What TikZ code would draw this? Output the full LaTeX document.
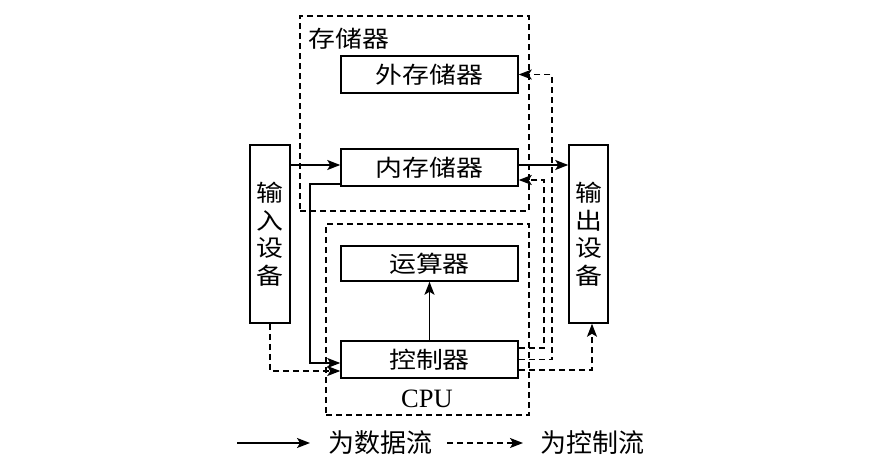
\documentclass[tikz,border=0pt]{standalone}
\usepackage{fontspec}
\setmainfont{Liberation Serif}
\newfontfamily\cjk{Noto Sans CJK SC}
\newfontfamily\cjkw[FakeStretch=1.17]{Noto Sans CJK SC}
\usetikzlibrary{arrows.meta,calc}
\begin{document}
\begin{tikzpicture}[x=1pt,y=-1pt,
  box/.style={draw,line width=1.5pt,inner sep=0pt,font=\cjkw\fontsize{23}{27.5}\selectfont},
  group/.style={draw,dash pattern=on 6pt off 4pt,line width=1.4pt,inner sep=0pt},
  data/.style={line width=1.5pt,-{Stealth[length=13pt,width=10pt,inset=3pt]}},
  ctrl/.style={line width=1.4pt,dash pattern=on 6pt off 4pt,-{Stealth[length=13pt,width=10pt,inset=3pt]}},
  lbl/.style={inner sep=0pt,font=\cjkw\fontsize{23}{27.5}\selectfont},
  leg/.style={inner sep=0pt,font=\cjk\fontsize{26}{30}\selectfont}]
\useasboundingbox (0,0) rectangle (889,469);
% groups
\node[group,minimum width=229pt,minimum height=195pt] (mem) at (414.5,113.5) {};
\node[lbl] (memlbl) at (349,39) {存储器};
\node[group,minimum width=203pt,minimum height=191pt] (cpu) at (427.5,319.5) {};
\node[inner sep=0pt,font=\fontsize{26.5}{30}\selectfont] (cpulbl) at (427,399) {CPU};
% boxes
\node[box,minimum width=177pt,minimum height=37pt] (wai) at (429.5,74.5) {外存储器};
\node[box,minimum width=177pt,minimum height=37pt] (nei) at (429.5,167.5) {内存储器};
\node[box,minimum width=177pt,minimum height=35pt] (ys) at (429.5,263.5) {运算器};
\node[box,minimum width=177pt,minimum height=37pt] (kz) at (429.5,359.5) {控制器};
\node[box,minimum width=40pt,minimum height=178pt,align=center] (in) at (270,234) {输\\入\\设\\备};
\node[box,minimum width=39pt,minimum height=178pt,align=center] (out) at (588.5,234) {输\\出\\设\\备};
% helper coordinates
\coordinate (n0) at ($(nei.west)+(0,-2.5)$);
\coordinate (n1) at ($(nei.east)+(0,-2.5)$);
\coordinate (n2) at ($(nei.east)+(0,12.5)$);
\coordinate (n3) at ($(nei.south west)+(0,-3)$);
\coordinate (k1) at ($(kz.west)+(0,3.5)$);
\coordinate (k2) at ($(kz.west)+(0,11.5)$);
\coordinate (r1) at ($(kz.east)+(0,-11.5)$);
\coordinate (r2) at ($(kz.east)+(0,0)$);
\coordinate (r3) at ($(kz.east)+(0,10.5)$);
\coordinate (lx) at (310,0);
\coordinate (cx1) at (544,0);
\coordinate (cx2) at (552,0);
\coordinate (o1) at ($(out.south)+(3.5,0)$);
% data flow
\draw[data] (in.east |- n0) -- (n0);
\draw[data] (n1) -- (n1 -| out.west);
\draw[data] (n3) -| (lx |- k1) -- (k1);
\draw[data] (kz.north) -- (ys.south);
% control flow
\draw[ctrl] (in.south) |- (k2);
\draw[ctrl] (r1) -| (cx1 |- n2) -- (n2);
\draw[ctrl] (r2) -| (cx2 |- wai.east) -- (wai.east);
\draw[ctrl] (r3) -| (o1);
% legend
\coordinate (l1a) at (237,443);
\coordinate (l1b) at (310,443);
\coordinate (l2a) at (447,443);
\coordinate (l2b) at (523,443);
\draw[data] (l1a) -- (l1b);
\node[leg] (l1) at (380,443) {为数据流};
\draw[ctrl] (l2a) -- (l2b);
\node[leg] (l2) at (592,443) {为控制流};
\end{tikzpicture}
\end{document}
